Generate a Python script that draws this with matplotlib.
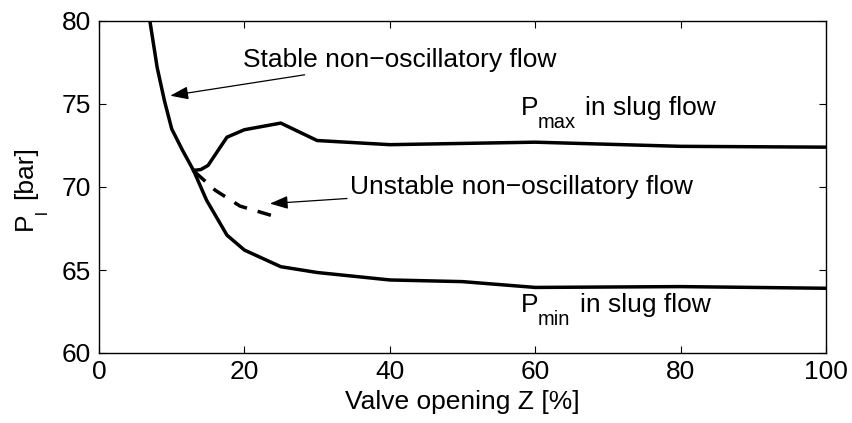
import numpy as np
import matplotlib.pyplot as plt
from matplotlib.transforms import offset_copy

plt.rcParams['font.family'] = ['Liberation Sans', 'DejaVu Sans']

# stable branch then P_min in slug flow
z_min = [7.0, 8.0, 9.0, 10.0, 11.5, 13.0, 14.8, 17.6, 20.0, 25.0, 30.0, 40.0, 50.0, 60.0, 80.0, 100.0]
p_min = [80.0, 77.2, 75.2, 73.5, 72.2, 71.0, 69.2, 67.1, 66.2, 65.2, 64.85, 64.4, 64.3, 63.95, 64.0, 63.9]

# P_max in slug flow
z_max = [13.0, 14.0, 15.0, 17.6, 20.0, 25.0, 30.0, 40.0, 60.0, 80.0, 100.0]
p_max = [71.0, 71.05, 71.3, 73.0, 73.45, 73.85, 72.8, 72.55, 72.7, 72.45, 72.4]

# unstable non-oscillatory branch
z_uns = [13.2, 16.0, 19.4, 24.0]
p_uns = [70.9, 69.8, 68.85, 68.25]

FS = 19
SUB = 14.5

fig = plt.figure(figsize=(8.52, 4.23), dpi=100)
ax = fig.add_axes([99/852, 1-353/423, 727/852, 332/423])

ax.plot(z_min, p_min, color='black', lw=2.5)
ax.plot(z_max, p_max, color='black', lw=2.5)
ax.plot(z_uns, p_uns, color='black', lw=2.5, ls=(0, (4.0, 3.2)))

ax.set_xlim(0, 100)
ax.set_ylim(60, 80)
ax.set_xticks([0, 20, 40, 60, 80, 100])
ax.set_yticks([60, 65, 70, 75, 80])
ax.tick_params(direction='in', top=True, right=True, labelsize=FS, length=5, width=0.8)
ax.tick_params(axis='x', pad=5)
ax.tick_params(axis='y', pad=6)
for s in ax.spines.values():
    s.set_linewidth(1.0)

ax.set_xlabel('Valve opening Z [%]', fontsize=FS, labelpad=4)

# y label with a low subscript, MATLAB style
fig.text(32/852, 1-230/423, 'P', fontsize=FS, rotation=90, rotation_mode='anchor',
         ha='left', va='baseline')
fig.text(47/852, 1-214/423, 'l', fontsize=12, rotation=90, rotation_mode='anchor',
         ha='left', va='baseline')
fig.text(32/852, 1-199/423, '[bar]', fontsize=FS, rotation=90, rotation_mode='anchor',
         ha='left', va='baseline')

arrow = dict(arrowstyle='-|>,head_length=0.5,head_width=0.18', color='black', lw=0.9,
             mutation_scale=22, shrinkA=0, shrinkB=0)
ax.annotate('Stable non\u2212oscillatory flow', xy=(9.8, 75.5), xytext=(19.8, 77.65),
            fontsize=FS, va='center', ha='left', arrowprops=arrow)
ax.annotate('Unstable non\u2212oscillatory flow', xy=(23.5, 69.0), xytext=(34.5, 70.0),
            fontsize=FS, va='center', ha='left', arrowprops=arrow)


def slug_label(x, y, sub, rest_dx):
    ax.text(x, y, 'P', fontsize=FS, va='baseline', ha='left')
    tr = offset_copy(ax.transData, fig=fig, x=17, y=-13, units='dots')
    ax.text(x, y, sub, fontsize=SUB, va='baseline', ha='left', transform=tr)
    tr = offset_copy(ax.transData, fig=fig, x=rest_dx, y=0, units='dots')
    ax.text(x, y, 'in slug flow', fontsize=FS, va='baseline', ha='left', transform=tr)


slug_label(58.05, 74.34, 'max', 64)
slug_label(58.05, 62.47, 'min', 59)

fig.savefig('out.png', dpi=100)
